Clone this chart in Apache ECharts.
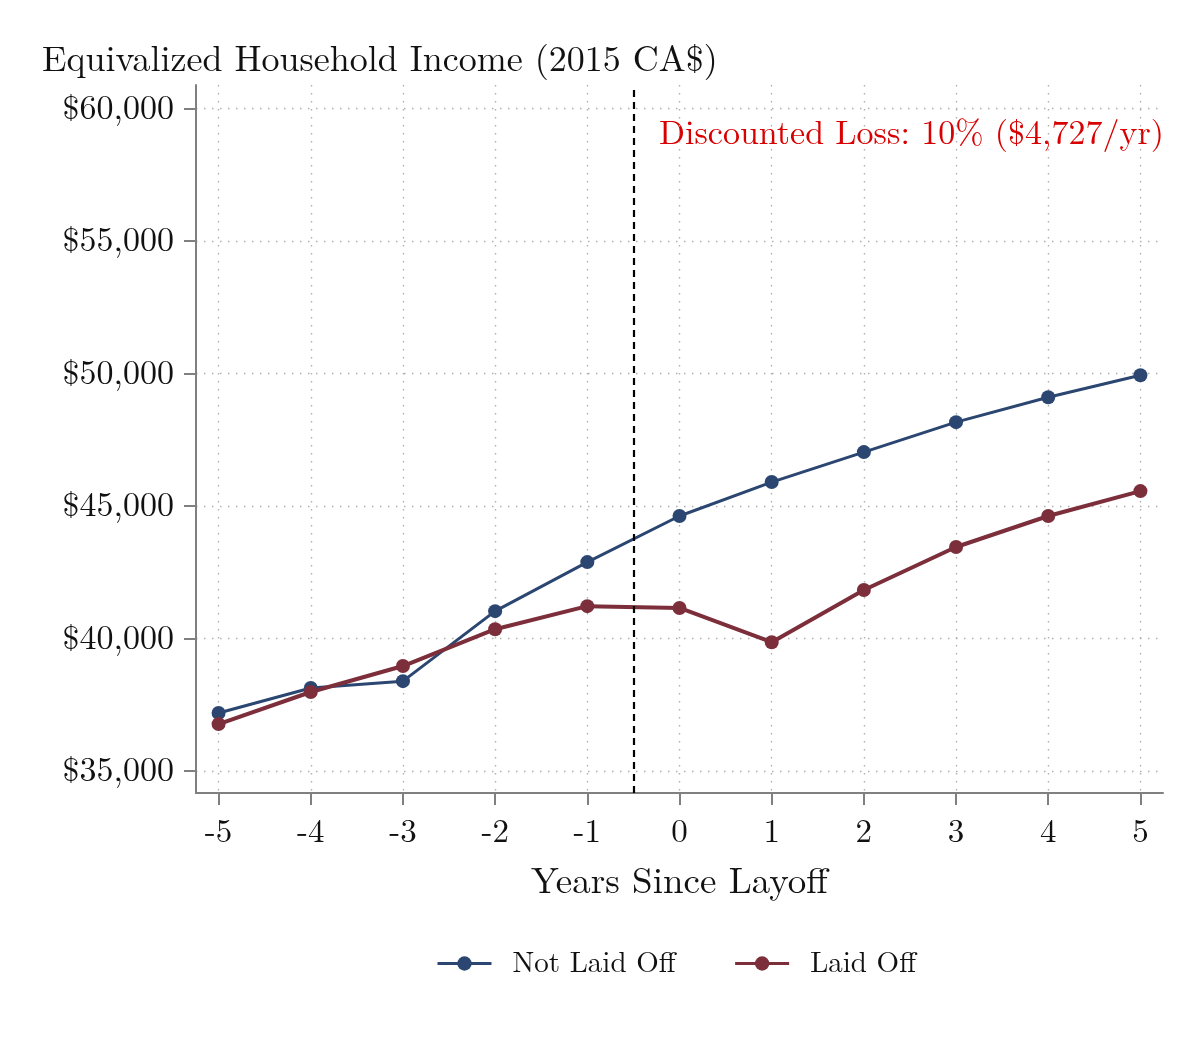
<!DOCTYPE html>
<html>
<head>
<meta charset="utf-8">
<script src="https://cdn.jsdelivr.net/npm/echarts@6/dist/echarts.min.js"></script>
<style>html,body{margin:0;padding:0;background:#fff;}#c{width:1200px;height:1043px;}</style>
</head>
<body>
<div id="c"></div>
<script>
const years = [-5, -4, -3, -2, -1, 0, 1, 2, 3, 4, 5];
const notLaidOff = [37190, 38130, 38390, 41030, 42880, 44620, 45900, 47030, 48160, 49100, 49930];
const laidOff = [36770, 37980, 38960, 40350, 41220, 41150, 39860, 41830, 43450, 44620, 45560];
const yTicks = [35000, 40000, 45000, 50000, 55000, 60000];
const xTicks = [-5, -4, -3, -2, -1, 0, 1, 2, 3, 4, 5];
const layoffLine = -0.5;
const titleText = 'Equivalized Household Income (2015 CA$)';
const noteText = 'Discounted Loss: 10% ($4,727/yr)';
const xName = 'Years Since Layoff';

const FONT = '"Latin Modern Roman","CMU Serif","Liberation Serif",serif';
const BLUE = '#2b4671';
const RED = '#7c2f3b';
const AXIS = '#808080';

const chart = echarts.init(document.getElementById('c'), null, {renderer: 'canvas'});
const pairs = (arr) => years.map((x, i) => [x, arr[i]]);

chart.setOption({
  animation: false,
  backgroundColor: '#fff',
  textStyle: {fontFamily: FONT},
  grid: {left: 196, right: 37, top: 85, bottom: 250, containLabel: false},
  graphic: [
    {type: 'text', left: 42, top: 42, style: {text: titleText, font: '36px ' + FONT, fill: '#111'}},
    {type: 'text', right: 36, top: 117, style: {text: noteText, font: '34px ' + FONT, fill: '#d80000', textAlign: 'right'}}
  ],
  xAxis: {
    type: 'value', min: -5.245, max: 5.245,
    name: xName, nameLocation: 'middle', nameGap: 70,
    nameTextStyle: {fontFamily: FONT, fontSize: 37, color: '#111'},
    axisLine: {show: true, onZero: false, lineStyle: {color: AXIS, width: 2}},
    axisTick: {show: true, length: 12, lineStyle: {color: AXIS, width: 2}, customValues: xTicks},
    axisLabel: {customValues: xTicks, margin: 22, fontFamily: FONT, fontSize: 33, color: '#111'},
    splitLine: {show: true, lineStyle: {color: '#b0b0b0', width: 1.4, type: [1.5, 6.5]}}
  },
  yAxis: {
    type: 'value', min: 34170, max: 60880,
    axisLine: {show: true, onZero: false, lineStyle: {color: AXIS, width: 2}},
    axisTick: {show: true, length: 12, lineStyle: {color: AXIS, width: 2}, customValues: yTicks},
    axisLabel: {customValues: yTicks, margin: 22, fontFamily: FONT, fontSize: 34, color: '#111',
      formatter: v => '$' + v.toLocaleString('en-US')},
    splitLine: {show: true, lineStyle: {color: '#b0b0b0', width: 1.4, type: [1.5, 6.5]}}
  },
  legend: {
    bottom: 60, left: 431, itemWidth: 54, itemHeight: 18, itemGap: 58,
    lineStyle: {width: 3},
    textStyle: {fontFamily: FONT, fontSize: 29, color: '#111', padding: [0, 0, 0, 16]},
    data: ['Not Laid Off', 'Laid Off']
  },
  series: [
    {
      name: 'Not Laid Off', type: 'line', data: pairs(notLaidOff),
      symbol: 'circle', symbolSize: 14, itemStyle: {color: BLUE}, lineStyle: {color: BLUE, width: 3},
      markLine: {
        silent: true, symbol: 'none', label: {show: false},
        lineStyle: {color: '#000', width: 2.2, type: [7, 5]},
        data: [{xAxis: layoffLine}]
      }
    },
    {
      name: 'Laid Off', type: 'line', data: pairs(laidOff),
      symbol: 'circle', symbolSize: 14, itemStyle: {color: RED}, lineStyle: {color: RED, width: 4}
    }
  ]
});
</script>
</body>
</html>
